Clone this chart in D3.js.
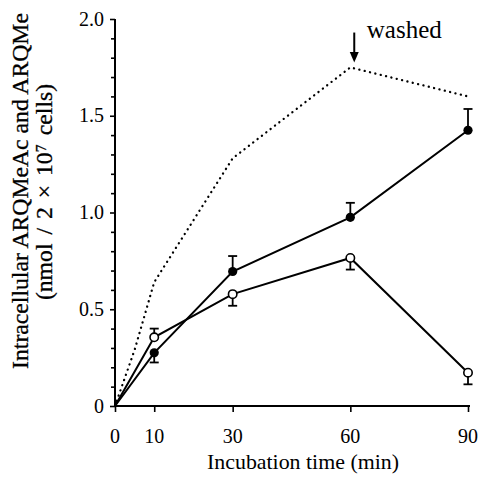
<!DOCTYPE html>
<html><head><meta charset="utf-8">
<script src="https://cdn.jsdelivr.net/npm/d3@7"></script>
<style>body{margin:0;background:#fff}svg{display:block}</style>
</head><body>
<svg id="c" width="479" height="481"></svg>
<script>
const times = [0, 10, 30, 60, 90];
const filledVals = [0, 0.275, 0.695, 0.975, 1.425];
const filledErr = [0, 0.05, 0.08, 0.075, 0.11];
const filledErrDir = [0, -1, 1, 1, 1];
const openVals = [0, 0.355, 0.578, 0.765, 0.172];
const openErr = [0, 0.045, 0.06, 0.06, 0.06];
const openErrDir = [0, 1, -1, -1, -1];
const dottedTimes = [0, 5, 10, 30, 60, 90];
const dottedVals = [0, 0.29, 0.64, 1.28, 1.75, 1.60];
const xTicks = [0, 10, 30, 60, 90];
const yMajor = [0, 0.5, 1.0, 1.5, 2.0];
const yTickLabels = ["0", "0.5", "1.0", "1.5", "2.0"];
const xTitle = "Incubation time (min)";
const yTitle1 = "Intracellular ARQMeAc and ARQMe";
const yTitle2 = "(nmol / 2 × 10⁷ cells)";
const washLabel = "washed";
const washTime = 61;

const FONT = "'Liberation Serif', 'Times New Roman', serif";
const svg = d3.select("#c");
const x = d3.scaleLinear().domain([0, 90]).range([115, 468]);
const y = d3.scaleLinear().domain([0, 2]).range([406, 19]);

function fit(sel, w) {
  const n = sel.node();
  const fs = parseFloat(sel.attr("font-size"));
  const len = n.getComputedTextLength();
  sel.attr("font-size", (fs * w / len).toFixed(2));
}

// y axis
const yAxis = d3.axisLeft(y).tickValues(d3.range(0, 2.01, 0.1)).tickSize(4).tickFormat("");
const gy = svg.append("g").attr("transform", `translate(${x(0)},0)`).call(yAxis);
gy.select(".domain").attr("d", `M0,${y(0)}V${y(2)}`).attr("stroke-width", 2);
gy.selectAll(".tick line").attr("stroke-width", 1.6);
gy.selectAll(".tick").filter(d => Math.abs(d * 2 - Math.round(d * 2)) < 1e-6).select("line").attr("x2", -5);
yMajor.forEach((v, i) => {
  svg.append("text").attr("x", 104).attr("y", y(v) + 6.5)
    .attr("text-anchor", "end").attr("font-family", FONT).attr("font-size", 20).text(yTickLabels[i]);
});

// x axis
const xAxis = d3.axisBottom(x).tickValues(xTicks).tickSize(6).tickFormat("");
const gx = svg.append("g").attr("transform", `translate(0,${y(0)})`).call(xAxis);
gx.select(".domain").attr("d", `M${x(0)},0H${x(90) + 2}`).attr("stroke-width", 2);
gx.selectAll(".tick line").attr("stroke-width", 1.6);
xTicks.forEach(v => {
  svg.append("text").attr("x", x(v)).attr("y", 443).attr("text-anchor", "middle")
    .attr("font-family", FONT).attr("font-size", 20).text(String(v));
});

// titles
const xt = svg.append("text").attr("x", 303).attr("y", 469).attr("text-anchor", "middle")
  .attr("font-family", FONT).attr("font-size", 19).text(xTitle);
fit(xt, 192);
const yt1 = svg.append("text").attr("transform", "translate(28,191) rotate(-90)").attr("text-anchor", "middle")
  .attr("font-family", FONT).attr("font-size", 20).attr("stroke", "#000").attr("stroke-width", 0.3)
  .text(yTitle1);
fit(yt1, 356);
const fs1 = yt1.attr("font-size");
const yt2 = svg.append("text").attr("transform", "translate(52,192) rotate(-90)").attr("text-anchor", "middle")
  .attr("font-family", FONT).attr("font-size", fs1).attr("stroke", "#000").attr("stroke-width", 0.3)
  .attr("word-spacing", 3).text(yTitle2);

// dotted line
svg.append("path").datum(dottedTimes.map((t, i) => [t, dottedVals[i]]))
  .attr("d", d3.line().x(d => x(d[0])).y(d => y(d[1])))
  .attr("fill", "none").attr("stroke", "#000").attr("stroke-width", 2.3)
  .attr("stroke-linecap", "round").attr("stroke-dasharray", "0.1,5.4");

// solid lines
const line = d3.line().x(d => x(d[0])).y(d => y(d[1]));
[filledVals, openVals].forEach(vals => {
  svg.append("path").datum(times.map((t, i) => [t, vals[i]])).attr("d", line)
    .attr("fill", "none").attr("stroke", "#000").attr("stroke-width", 2);
});

// error bars
function errBars(vals, errs, dirs) {
  times.forEach((t, i) => {
    if (!errs[i]) return;
    const y1 = y(vals[i]), y2 = y(vals[i] + dirs[i] * errs[i]);
    svg.append("line").attr("x1", x(t)).attr("x2", x(t)).attr("y1", y1).attr("y2", y2)
      .attr("stroke", "#000").attr("stroke-width", 1.8);
    svg.append("line").attr("x1", x(t) - 4.5).attr("x2", x(t) + 4.5).attr("y1", y2).attr("y2", y2)
      .attr("stroke", "#000").attr("stroke-width", 1.8);
  });
}
errBars(filledVals, filledErr, filledErrDir);
errBars(openVals, openErr, openErrDir);

// markers
svg.selectAll(".open").data(times.slice(1)).enter().append("circle")
  .attr("cx", d => x(d)).attr("cy", (d, i) => y(openVals[i + 1])).attr("r", 4.2)
  .attr("fill", "#fff").attr("stroke", "#000").attr("stroke-width", 1.6);
svg.selectAll(".filled").data(times.slice(1)).enter().append("circle")
  .attr("cx", d => x(d)).attr("cy", (d, i) => y(filledVals[i + 1])).attr("r", 4.6)
  .attr("fill", "#000");

// washed annotation
const ax = x(washTime);
svg.append("line").attr("x1", ax).attr("x2", ax).attr("y1", y(1.93)).attr("y2", y(1.82))
  .attr("stroke", "#000").attr("stroke-width", 2);
svg.append("path").attr("d", `M${ax - 4.5},${y(1.83)}L${ax + 4.5},${y(1.83)}L${ax},${y(1.775)}Z`).attr("fill", "#000");
const wt = svg.append("text").attr("x", x(64.2)).attr("y", 38).attr("font-family", FONT)
  .attr("font-size", 20).text(washLabel);
fit(wt, 75);
</script>
</body></html>
